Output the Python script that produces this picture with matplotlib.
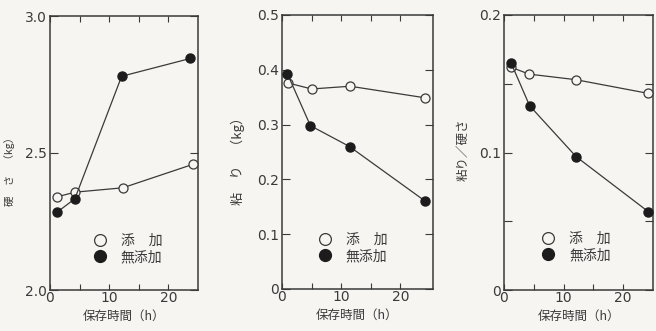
import matplotlib
matplotlib.use("Agg")
import matplotlib.pyplot as plt
from matplotlib.lines import Line2D
from matplotlib.ticker import FixedLocator, FixedFormatter

plt.rcParams['font.family'] = ['Noto Sans CJK JP', 'DejaVu Sans']

# 保存時間 (h)
hard_t_add = [1.2, 4.2, 12.3, 24.2]
hard_add = [2.34, 2.357, 2.373, 2.459]
hard_t_none = [1.2, 4.2, 12.1, 23.7]
hard_none = [2.284, 2.333, 2.78, 2.845]

stick_t_add = [1.0, 5.0, 11.5, 24.1]
stick_add = [0.376, 0.365, 0.370, 0.349]
stick_t_none = [0.9, 4.8, 11.4, 24.1]
stick_none = [0.393, 0.298, 0.260, 0.161]

ratio_t_add = [1.2, 4.2, 12.0, 24.2]
ratio_add = [0.162, 0.157, 0.153, 0.143]
ratio_t_none = [1.2, 4.3, 12.1, 24.2]
ratio_none = [0.165, 0.134, 0.097, 0.057]

legend_labels = ['添\u3000加', '無添加']
xlabel = '保存時間（h）'
ylabels = ['硬\u3000さ\u3000（kg）', '粘\u3000り\u3000（kg）', '粘り／硬さ']

W, H = 656, 331
bg = '#f6f5f2'
ink = '#3a3a3a'

fig = plt.figure(figsize=(W / 100, H / 100), dpi=100, facecolor=bg)

# axes boxes in pixels: left, right, top, bottom
boxes = [(50, 198, 16, 290), (282, 433, 15, 289), (504, 653, 15, 290)]
xlims = [25, 25.5, 25]

panels = [
    dict(series=[(hard_t_add, hard_add), (hard_t_none, hard_none)],
         ylim=(2.0, 3.0), yticks=[2.0, 2.5, 3.0], ylabels_t=[2.0, 2.5, 3.0],
         yfmt=['2.0', '2.5', '3.0'], ylab_xy=(10, 169), ylab_size=7.5,
         leg=(0.28, 0.205)),
    dict(series=[(stick_t_add, stick_add), (stick_t_none, stick_none)],
         ylim=(0, 0.5), yticks=[0, 0.1, 0.2, 0.3, 0.4, 0.5],
         ylabels_t=[0, 0.1, 0.2, 0.3, 0.4, 0.5],
         yfmt=['0', '0.1', '0.2', '0.3', '0.4', '0.5'], ylab_xy=(238, 158),
         ylab_size=9.5, leg=(0.23, 0.205)),
    dict(series=[(ratio_t_add, ratio_add), (ratio_t_none, ratio_none)],
         ylim=(0, 0.2), yticks=[0, 0.05, 0.1, 0.15, 0.2], ylabels_t=[0, 0.1, 0.2],
         yfmt=['0', '0.1', '0.2'], ylab_xy=(463, 150), ylab_size=9,
         leg=(0.24, 0.21)),
]

for i, ((l, r, t, b), xmax, p) in enumerate(zip(boxes, xlims, panels)):
    ax = fig.add_axes([l / W, 1 - b / H, (r - l) / W, (b - t) / H])
    ax.set_facecolor(bg)
    (xa, ya), (xn, yn) = p['series']
    ax.plot(xa, ya, '-o', color=ink, lw=0.9, ms=6.5, mfc=bg, mec=ink, mew=0.9,
            zorder=3)
    ax.plot(xn, yn, '-o', color=ink, lw=0.9, ms=6.5, mfc='#1c1c1c', mec='#1c1c1c',
            zorder=4)
    ax.set_xlim(0, xmax)
    ax.set_ylim(*p['ylim'])

    ax.xaxis.set_major_locator(FixedLocator([0, 10, 20]))
    ax.xaxis.set_major_formatter(FixedFormatter(['0', '10', '20']))
    ax.xaxis.set_minor_locator(FixedLocator([5, 15]))
    ax.tick_params(axis='x', which='both', direction='in', top=True, bottom=True,
                   length=4, width=0.8, color=ink, labelsize=10, labelcolor=ink,
                   pad=1)
    ax.yaxis.set_major_locator(FixedLocator(p['ylabels_t']))
    ax.yaxis.set_major_formatter(FixedFormatter(p['yfmt']))
    minor = [v for v in p['yticks'] if v not in p['ylabels_t']]
    ax.yaxis.set_minor_locator(FixedLocator(minor))
    ax.tick_params(axis='y', which='both', direction='in', left=True, right=True,
                   length=6, width=0.8, color=ink, labelsize=10, labelcolor=ink,
                   pad=2)
    for lab in ax.get_xticklabels() + ax.get_yticklabels():
        lab.set_family('DejaVu Sans')
    for s in ax.spines.values():
        s.set_color(ink)
        s.set_linewidth(1.1)

    ax.set_xlabel(xlabel, fontsize=9, color=ink, labelpad=3)

    handles = [
        Line2D([], [], ls='none', marker='o', ms=8.5, mfc=bg, mec=ink, mew=0.9),
        Line2D([], [], ls='none', marker='o', ms=8.5, mfc='#1c1c1c', mec='#1c1c1c'),
    ]
    ax.legend(handles, legend_labels, loc='upper left', bbox_to_anchor=p['leg'],
              frameon=False, fontsize=10, labelcolor=ink, handlelength=1.2,
              handletextpad=0.9, labelspacing=0.15, borderpad=0, borderaxespad=0)

    lx, ly = p['ylab_xy']
    fig.text(lx / W, 1 - ly / H, ylabels[i], rotation=90, ha='center',
             va='center', fontsize=p['ylab_size'], color=ink)

fig.savefig('out.png', dpi=100, facecolor=bg)
